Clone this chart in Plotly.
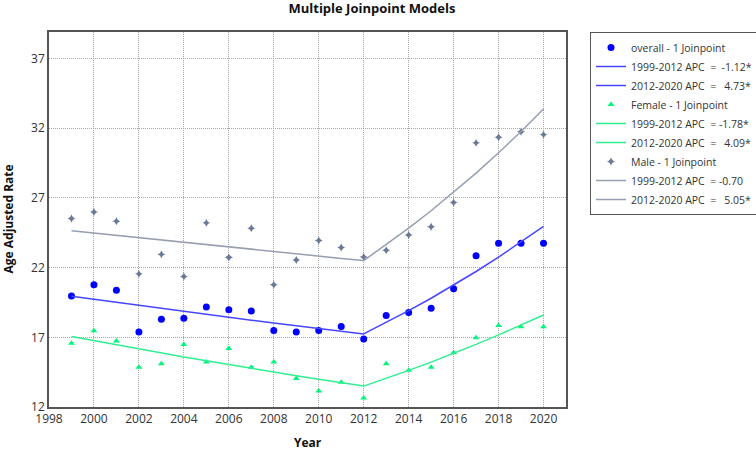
import plotly.graph_objects as go

years = list(range(1999, 2021))
seg1_years = list(range(1999, 2013))
seg2_years = list(range(2012, 2021))

overall_obs = [19.97, 20.77, 20.37, 17.38, 18.30, 18.37, 19.17, 18.98, 18.88, 17.49, 17.38,
               17.49, 17.78, 16.88, 18.56, 18.77, 19.08, 20.49, 22.85, 23.75, 23.75, 23.75]
overall_fit1 = [19.95, 19.73, 19.51, 19.29, 19.07, 18.86, 18.65, 18.44, 18.23, 18.03, 17.83,
                17.63, 17.43, 17.24]
overall_fit2 = [17.24, 18.06, 18.91, 19.80, 20.74, 21.72, 22.75, 23.82, 24.95]

female_obs = [16.57, 17.47, 16.74, 14.85, 15.11, 16.48, 15.23, 16.19, 14.85, 15.23, 14.05,
              13.15, 13.77, 12.65, 15.11, 14.63, 14.85, 15.89, 16.97, 17.85, 17.75, 17.75]
female_fit1 = [17.05, 16.75, 16.45, 16.15, 15.87, 15.58, 15.31, 15.03, 14.77, 14.50, 14.24,
               13.99, 13.74, 13.50]
female_fit2 = [13.50, 14.05, 14.63, 15.22, 15.84, 16.49, 17.17, 17.87, 18.60]

male_obs = [25.52, 25.99, 25.33, 21.55, 22.95, 21.36, 25.21, 22.73, 24.83, 20.77, 22.55,
            23.94, 23.44, 22.76, 23.25, 24.34, 24.93, 26.67, 30.95, 31.35, 31.75, 31.54]
male_fit1 = [24.65, 24.48, 24.31, 24.14, 23.97, 23.80, 23.63, 23.47, 23.30, 23.14, 22.98,
             22.82, 22.66, 22.50]
male_fit2 = [22.50, 23.64, 24.83, 26.08, 27.40, 28.78, 30.24, 31.76, 33.37]

NB = "\u00a0"
names = [
    "overall - 1 Joinpoint",
    f"1999-2012 APC{NB*2}={NB*2}-1.12*",
    f"2012-2020 APC{NB*2}={NB*2} 4.73*",
    "Female - 1 Joinpoint",
    f"1999-2012 APC{NB*2}={NB}-1.78*",
    f"2012-2020 APC{NB*2}={NB*2} 4.09*",
    "Male - 1 Joinpoint",
    f"1999-2012 APC{NB*2}={NB}-0.70",
    f"2012-2020 APC{NB*2}={NB*2} 5.05*",
]

x_ticks = list(range(1998, 2021, 2))
y_ticks = [12, 17, 22, 27, 32, 37]

FONT = "Open Sans"
fig = go.Figure()

groups = [
    (overall_obs, overall_fit1, overall_fit2, "#0000FF", "#4646FF", dict(symbol="circle", size=7)),
    (female_obs, female_fit1, female_fit2, "#00F57A", "#30EE90", dict(symbol="triangle-up", size=6)),
    (male_obs, male_fit1, male_fit2, "#6A7A96", "#959FB2", dict(symbol="star-diamond", size=6)),
]
for i, (obs, f1, f2, mc, lc, mk) in enumerate(groups):
    fig.add_trace(go.Scatter(x=years, y=obs, mode="markers", name=names[3 * i],
                             marker=dict(color=mc, line=dict(width=0), **mk)))
    fig.add_trace(go.Scatter(x=seg1_years, y=f1, mode="lines", name=names[3 * i + 1],
                             line=dict(color=lc, width=1.5)))
    fig.add_trace(go.Scatter(x=seg2_years, y=f2, mode="lines", name=names[3 * i + 2],
                             line=dict(color=lc, width=1.5)))

axis_common = dict(showline=True, mirror=True, linecolor="#555555", linewidth=1.5,
                   showgrid=True, gridcolor="#a8a8a8", griddash="1px,1px", gridwidth=1,
                   zeroline=False, ticks="", tickfont=dict(family=FONT, size=12, color="#333333"))

fig.update_layout(
    width=756, height=451,
    margin=dict(l=49, r=190, t=32, b=44, autoexpand=False),
    paper_bgcolor="white", plot_bgcolor="white",
    title=dict(text="<b>Multiple Joinpoint Models</b>", x=0.492, xref="container",
               y=1.0 - 4 / 451, yref="container", yanchor="top", xanchor="center",
               pad=dict(t=0, b=0, l=0, r=0),
               font=dict(family=FONT, size=13, color="#111111")),
    xaxis=dict(range=[1998, 2021], tickvals=x_ticks, **axis_common),
    yaxis=dict(range=[12, 38.9], tickvals=y_ticks, **axis_common),
    showlegend=True,
    legend=dict(x=(590 - 49) / 517, y=1.0, xanchor="left", yanchor="top",
                bordercolor="#555555", borderwidth=1, bgcolor="white",
                font=dict(family=FONT, size=10.5, color="#333333"),
                traceorder="normal", itemwidth=30),
    annotations=[
        dict(text="<b>Year</b>", x=0.5, y=-(442 - 407) / (407 - 32), xref="paper", yref="paper",
             xanchor="center", yanchor="middle", showarrow=False,
             font=dict(family=FONT, size=12, color="#111111")),
        dict(text="<b>Age Adjusted Rate</b>", textangle=-90, showarrow=False,
             xref="paper", yref="paper", x=(8 - 49) / 517, y=0.5,
             xanchor="center", yanchor="middle",
             font=dict(family=FONT, size=12, color="#111111")),
    ],
)
fig.write_html("out.html", config={"displayModeBar": False},
               post_script="document.body.style.margin='0';document.body.style.overflow='hidden';")
